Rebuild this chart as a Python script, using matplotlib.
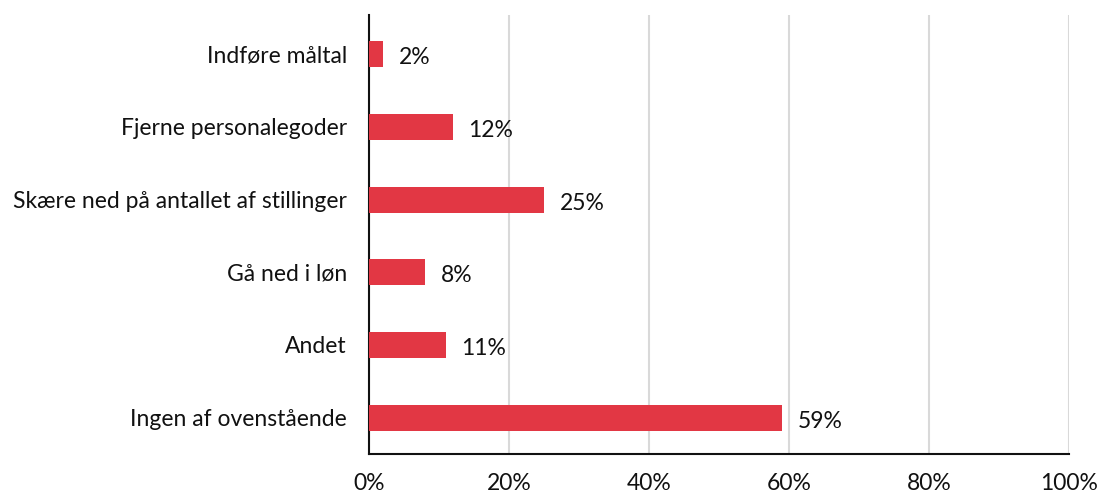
import numpy as np
import matplotlib.pyplot as plt

categories = ["Indføre måltal", "Fjerne personalegoder", "Skære ned på antallet af stillinger",
              "Gå ned i løn", "Andet", "Ingen af ovenstående"]
values = [2, 12, 25, 8, 11, 59]
xticks = [0, 20, 40, 60, 80, 100]

plt.rcParams['font.family'] = ['Lato', 'DejaVu Sans']

fig = plt.figure(figsize=(11, 4.96), dpi=100)
ax = fig.add_axes([369/1100, 1-454/496, 700/1100, 439/496])

y = np.arange(len(categories))
ax.barh(y, values, height=0.36, color='#e23744', zorder=3)
for yi, v in zip(y, values):
    ax.text(v + 2.2, yi + 0.05, f"{v}%", va='center', ha='left', fontsize=16.5, color='#111111')

ax.set_xlim(0, 100)
ax.set_ylim(5.5, -0.54)
ax.set_yticks(y)
ax.set_yticklabels(categories, fontsize=16.5, color='#111111')
ax.set_xticks(xticks)
ax.set_xticklabels([f"{t}%" for t in xticks], fontsize=16.5, color='#111111')
ax.tick_params(axis='both', length=0)
ax.tick_params(axis='x', pad=14)
ax.tick_params(axis='y', pad=16)
ax.grid(axis='x', color='#d9d9d9', linewidth=1.5, zorder=0)
for s in ['top', 'right']:
    ax.spines[s].set_visible(False)
ax.spines['left'].set_color('#111111')
ax.spines['bottom'].set_color('#111111')
ax.spines['left'].set_linewidth(1.5)
ax.spines['bottom'].set_linewidth(1.5)

fig.savefig("out.png", dpi=100)
